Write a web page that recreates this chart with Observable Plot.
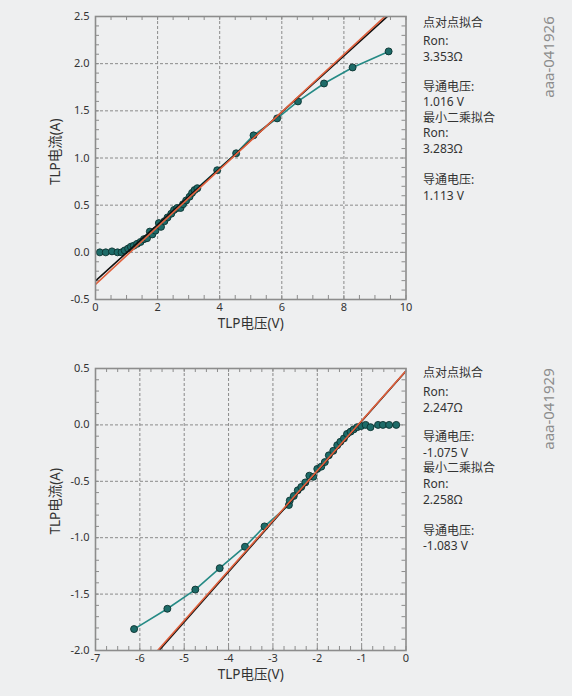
<!DOCTYPE html>
<html>
<head>
<meta charset="utf-8">
<script src="https://cdn.jsdelivr.net/npm/d3@7"></script>
<script src="https://cdn.jsdelivr.net/npm/@observablehq/plot@0.6"></script>
<style>
  html, body { margin: 0; padding: 0; background: #eeeff0; }
  #page { position: relative; width: 572px; height: 696px; overflow: hidden;
          font-family: "Noto Sans", "Noto Sans CJK SC", sans-serif; }
  .chart { position: absolute; left: 0; }
  .side { position: absolute; left: 423px; font-size: 12px; color: #333; line-height: 12px; white-space: nowrap; }
  .wm { position: absolute; font-size: 15px; color: #8c8c8c; white-space: nowrap;
        transform: translate(-50%, -50%) rotate(-90deg); }
</style>
</head>
<body>
<div id="page"></div>
<script>
// ---------- data ----------
const topV = [0.14,0.33,0.53,0.71,0.84,0.94,1.05,1.14,1.23,1.34,1.45,1.56,1.66,1.75,1.83,1.93,2.04,2.11,2.22,2.32,2.44,2.53,2.63,2.74,2.82,2.92,3.03,3.11,3.19,3.28,3.92,4.53,5.09,5.85,6.52,7.36,8.28,9.44];
const topI = [0.0,0.0,0.01,0.0,0.0,0.02,0.04,0.06,0.07,0.09,0.11,0.14,0.15,0.22,0.19,0.23,0.31,0.27,0.33,0.37,0.41,0.45,0.47,0.47,0.51,0.55,0.59,0.63,0.66,0.68,0.87,1.05,1.24,1.42,1.60,1.79,1.96,2.13];

const botV = [-6.13,-5.38,-4.75,-4.20,-3.63,-3.19,-2.64,-2.62,-2.53,-2.44,-2.36,-2.27,-2.18,-2.09,-2.00,-1.91,-1.83,-1.74,-1.64,-1.55,-1.48,-1.40,-1.33,-1.25,-1.18,-1.10,-1.01,-0.91,-0.80,-0.63,-0.52,-0.38,-0.22];
const botI = [-1.81,-1.63,-1.46,-1.27,-1.08,-0.90,-0.71,-0.67,-0.63,-0.58,-0.55,-0.51,-0.45,-0.46,-0.39,-0.37,-0.33,-0.27,-0.23,-0.18,-0.15,-0.12,-0.08,-0.06,-0.04,-0.02,-0.01,0.0,-0.02,0.0,0.0,0.0,0.0];

const fitNames = ["点对点拟合", "最小二乘拟合"];
const topRon = [3.353, 3.283];
const topVon = [1.016, 1.113];
const botRon = [2.247, 2.258];
const botVon = [-1.075, -1.083];
const fitColors = ["#111111", "#e0603c"];

const topXTicks = [0, 2, 4, 6, 8, 10];
const topYTicks = [-0.5, 0.0, 0.5, 1.0, 1.5, 2.0, 2.5];
const botXTicks = [-7, -6, -5, -4, -3, -2, -1, 0];
const botYTicks = [-2.0, -1.5, -1.0, -0.5, 0.0, 0.5];
const xLabel = "TLP电压(V)";
const yLabel = "TLP电流(A)";
const watermarks = ["aaa-041926", "aaa-041929"];

// ---------- drawing ----------
const page = document.getElementById("page");
const font = "'Noto Sans', 'Noto Sans CJK SC', sans-serif";

function range(a, b, s) { const out = []; for (let v = a; v <= b + 1e-9; v += s) out.push(+v.toFixed(4)); return out; }

function drawChart(cfg) {
  const W = 420, mL = 95, mR = 14.5, mT = 16, mB = 45;
  const H = cfg.height;
  const fw = W - mL - mR, fh = H - mT - mB;
  const pts = cfg.V.map((v, i) => ({V: v, I: cfg.I[i]}));
  const fits = [];
  cfg.ron.forEach((r, k) => {
    cfg.xDomain.forEach(v => fits.push({fit: k, V: v, I: (v - cfg.von[k]) / r}));
  });
  const minorX = range(cfg.xDomain[0], cfg.xDomain[1], cfg.minorXStep);
  const minorY = range(cfg.yDomain[0], cfg.yDomain[1], 0.1);
  const gridX = cfg.xTicks.slice(1, -1), gridY = cfg.yTicks.slice(1, -1);
  const tickCol = "#8c8c8c";
  const svg = Plot.plot({
    width: W, height: H, marginLeft: mL, marginRight: mR, marginTop: mT, marginBottom: mB,
    style: {fontFamily: font, fontSize: "11px", color: "#333", background: "transparent"},
    x: {domain: cfg.xDomain},
    y: {domain: cfg.yDomain},
    marks: [
      Plot.gridX(gridX, {stroke: "#8a8a8a", strokeOpacity: 1, strokeDasharray: "3,2", strokeWidth: 1}),
      Plot.gridY(gridY, {stroke: "#8a8a8a", strokeOpacity: 1, strokeDasharray: "3,2", strokeWidth: 1}),
      Plot.ruleX(minorX, {stroke: tickCol, insetTop: fh - 4}),
      Plot.ruleX(minorX, {stroke: tickCol, insetBottom: fh - 4}),
      Plot.ruleY(minorY, {stroke: tickCol, insetRight: fw - 4}),
      Plot.ruleY(minorY, {stroke: tickCol, insetLeft: fw - 4}),
      Plot.axisX(cfg.xTicks, {tickSize: 0, tickPadding: 4, label: null, tickFormat: d => String(d), fontSize: 11}),
      Plot.axisY(cfg.yTicks, {tickSize: 0, tickPadding: 6, label: null, tickFormat: d => d.toFixed(1), fontSize: 11}),
      Plot.line(pts, {x: "V", y: "I", stroke: "#258a85", strokeWidth: 1.6}),
      Plot.dot(pts, {x: "V", y: "I", r: 3.5, fill: "#1d6b68", stroke: "#0b3230", strokeWidth: 0.9}),
      Plot.line(fits.filter(d => d.fit === 0), {x: "V", y: "I", stroke: fitColors[0], strokeWidth: 1.6, clip: true}),
      Plot.line(fits.filter(d => d.fit === 1), {x: "V", y: "I", stroke: fitColors[1], strokeWidth: 1.6, clip: true}),
      Plot.frame({stroke: "#8c8c8c", strokeWidth: 1.6}),
      Plot.text([xLabel], {frameAnchor: "bottom", dy: 24, fontSize: 13.5, fill: "#333", lineAnchor: "middle"}),
      Plot.text([yLabel], {frameAnchor: "left", dx: -40, dy: cfg.yLabelDy, rotate: -90, fontSize: 13.5, fill: "#333"})
    ]
  });
  svg.classList.add("chart");
  svg.style.top = cfg.top + "px";
  page.appendChild(svg);

  // side annotations
  const lines = [
    [fitNames[0], 0], ["Ron:", 18.5], [cfg.ron[0].toFixed(3) + "Ω", 34.5],
    ["导通电压:", 64], [cfg.von[0].toFixed(3) + " V", 79.5],
    [fitNames[1], 95], ["Ron:", 110.5], [cfg.ron[1].toFixed(3) + "Ω", 126.5],
    ["导通电压:", 157.5], [cfg.von[1].toFixed(3) + " V", 173]
  ];
  lines.forEach(([t, dy]) => {
    const d = document.createElement("div");
    d.className = "side";
    d.textContent = t;
    d.style.top = (cfg.sideTop + dy - 6) + "px";
    page.appendChild(d);
  });
  const wm = document.createElement("div");
  wm.className = "wm";
  wm.textContent = cfg.wm;
  wm.style.left = "548px";
  wm.style.top = cfg.wmY + "px";
  page.appendChild(wm);
}

drawChart({top: 0, height: 344, V: topV, I: topI, ron: topRon, von: topVon,
  xDomain: [0, 10], yDomain: [-0.5, 2.5], xTicks: topXTicks, yTicks: topYTicks, minorXStep: 0.5,
  yLabelDy: 27, sideTop: 22.5, wm: watermarks[0], wmY: 57});
drawChart({top: 352, height: 343, V: botV, I: botI, ron: botRon, von: botVon,
  xDomain: [-7, 0], yDomain: [-2.0, 0.5], xTicks: botXTicks, yTicks: botYTicks, minorXStep: 0.25,
  yLabelDy: 25, sideTop: 373, wm: watermarks[1], wmY: 409});
</script>
</body>
</html>
